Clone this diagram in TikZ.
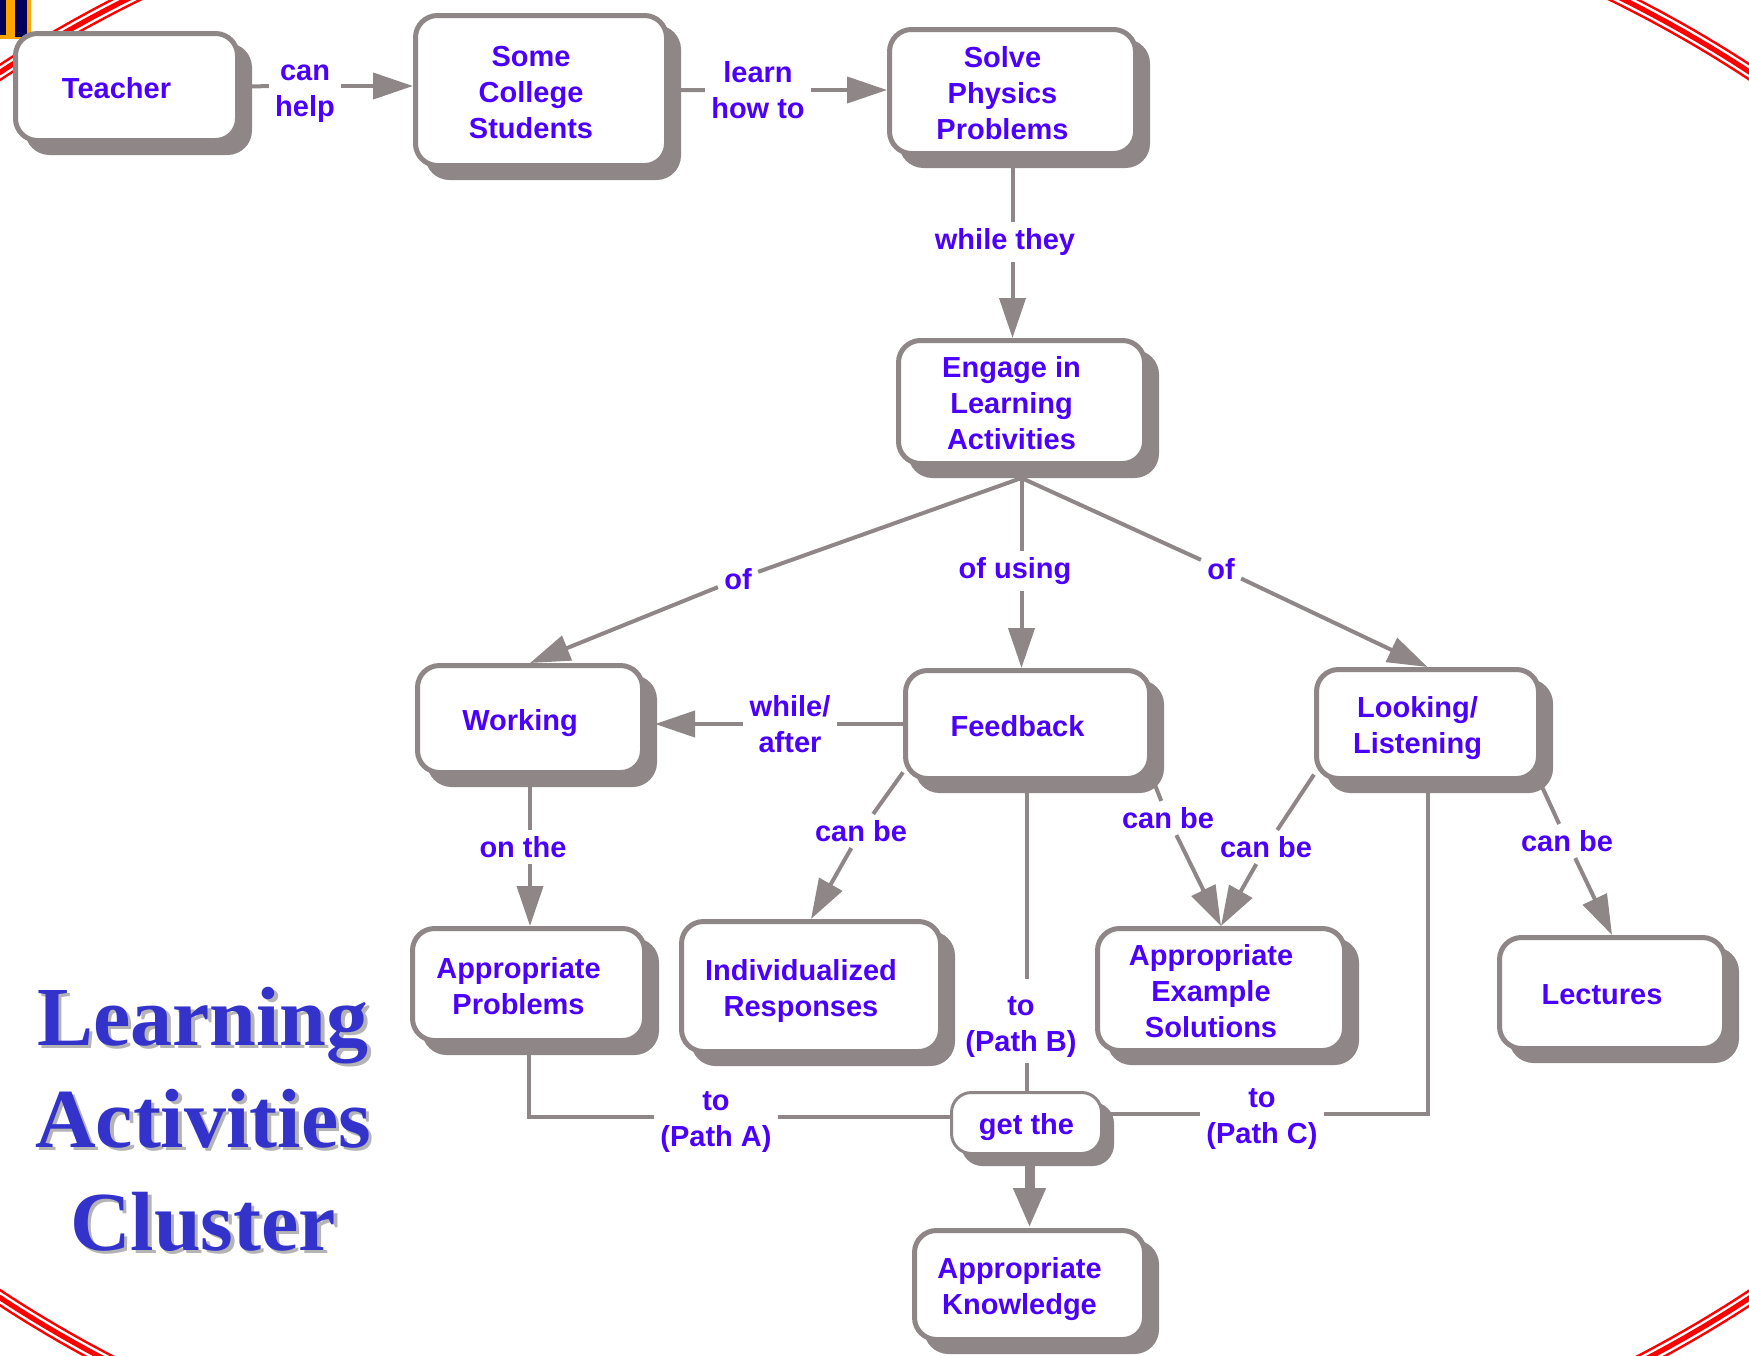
\documentclass[tikz,border=0pt]{standalone}
\usepackage{fontspec}
\setmainfont{Liberation Sans}
\newfontfamily\titlefont{Liberation Serif}
\usetikzlibrary{arrows.meta,shadows}
\definecolor{ink}{RGB}{75,0,255}
\definecolor{frame}{RGB}{143,135,135}
\definecolor{titleblue}{RGB}{51,51,204}
\definecolor{titleshade}{RGB}{180,180,180}
\definecolor{rim}{RGB}{255,0,0}
\definecolor{logoorange}{RGB}{255,165,0}
\definecolor{logonavy}{RGB}{0,0,90}
% a stack of centred lines, printed a little lower than the space it claims
\newcommand\lowered[2]{\raisebox{-#1}[\height][\depth]{\begin{tabular}{@{}c@{}}#2\end{tabular}}}
% concept text sits a little left of and below the box centre (room for the shadow)
\newcommand\conceptlines[1]{\lowered{2.2pt}{#1}\hspace*{10pt}}

\begin{document}
\begin{tikzpicture}[x=0.5pt,y=-0.5pt,
  labelfont/.style={font=\bfseries\fontsize{14.5pt}{18pt}\selectfont},
  concept/.style={labelfont, draw=frame, line width=2.5pt, fill=white,
    rounded corners=11pt, text=ink, inner sep=0pt,
    drop shadow={shadow xshift=6pt, shadow yshift=-6pt, fill=frame,
      draw=frame, line width=2.5pt, opacity=1}},
  smallconcept/.style={labelfont, draw=frame, line width=1.5pt, fill=white,
    rounded corners=10pt, text=ink, inner sep=0pt,
    drop shadow={shadow xshift=5.5pt, shadow yshift=-5.5pt, fill=frame,
      draw=frame, line width=1.5pt, opacity=1}},
  phrase/.style={labelfont, text=ink, align=center, inner sep=3pt},
  link/.style={draw=frame, line width=2pt},
  arr/.style={-{Triangle[length=20pt,width=13pt]}},
  bigtitle/.style={font=\titlefont\bfseries\fontsize{42pt}{51pt}\selectfont, anchor=base}
]
\useasboundingbox (0,0) rectangle (1749,1355);

% red rim of the slide
\begin{scope}
  \clip (0,0) rectangle (1749,1355);
  \draw[rim, line width=1.2pt] (875,685) ellipse [x radius=1251, y radius=846.5];
  \draw[rim, line width=2.6pt] (875,685) ellipse [x radius=1257.5, y radius=853];
  \draw[rim, line width=1.2pt] (875,685) ellipse [x radius=1264, y radius=859.5];
\end{scope}

% logo corner
\fill[logoorange] (0,0) rectangle (31,39);
\fill[logonavy] (0,0) rectangle (6,35);
\fill[logonavy] (15,0) rectangle (27,37);

% title
\foreach \word/\base [count=\i] in {Learning/1045, Activities/1147, Cluster/1250} {
  \node[bigtitle, text=titleshade] (shade\i) at (206.5,\base+3.5) {\word};
  \node[bigtitle, text=titleblue] (title\i) at (203,\base) {\word};
}

% concepts
\node[concept, minimum width=111pt, minimum height=53.5pt] (teacher) at (126.5,87) {\conceptlines{Teacher}};
\node[concept, minimum width=125.5pt, minimum height=75pt] (students) at (541,90.5) {\conceptlines{Some\\College\\Students}};
\node[concept, minimum width=123pt, minimum height=62pt] (solve) at (1012.5,91.5) {\conceptlines{Solve\\Physics\\Problems}};
\node[concept, minimum width=123pt, minimum height=61.5pt] (engage) at (1021.5,402) {\conceptlines{Engage in\\Learning\\Activities}};
\node[concept, minimum width=112.5pt, minimum height=53.5pt] (working) at (530,719) {\conceptlines{Working}};
\node[concept, minimum width=122pt, minimum height=54pt] (feedback) at (1027.5,724.5) {\conceptlines{Feedback}};
\node[concept, minimum width=111pt, minimum height=54.5pt] (looking) at (1427.5,724) {\conceptlines{Looking/\\Listening}};
\node[concept, minimum width=116pt, minimum height=56pt] (problems) at (528.5,984.5) {\conceptlines{Appropriate\\Problems}};
\node[concept, minimum width=129.5pt, minimum height=65pt] (responses) at (811,986.5) {\conceptlines{Individualized\\Responses}};
\node[concept, minimum width=123.5pt, minimum height=61pt] (examples) at (1221,989.5) {\conceptlines{Appropriate\\Example\\Solutions}};
\node[concept, minimum width=112.5pt, minimum height=55.5pt] (lectures) at (1612,993) {\conceptlines{Lectures}};
\node[smallconcept, minimum width=75pt, minimum height=30.5pt] (getthe) at (1026.5,1123) {\lowered{2pt}{get the}};
\node[concept, minimum width=115pt, minimum height=54.5pt] (knowledge) at (1029.5,1285) {\conceptlines{Appropriate\\Knowledge}};

% linking phrases
\node[phrase] (canhelp) at (305,86) {\lowered{2.6pt}{can\\help}};
\node[phrase] (learnhow) at (758,90) {learn\\how to};
\node[phrase] (whilethey) at (1005,242) {while they};
\node[phrase] (of1) at (738,579) {of};
\node[phrase] (ofusing) at (1015,571) {of using};
\node[phrase] (of2) at (1221,569) {of};
\node[phrase] (whileafter) at (790,724) {while/\\after};
\node[phrase] (canbe1) at (861,831) {can be};
\node[phrase] (canbe2) at (1168,818) {can be};
\node[phrase] (canbe3) at (1266,847) {can be};
\node[phrase] (canbe4) at (1567,841) {can be};
\node[phrase] (onthe) at (523,847) {on the};
\node[phrase] (pathb) at (1021,1021) {\lowered{2.4pt}{to\\(Path B)}};
\node[phrase] (patha) at (716,1117) {\lowered{2.2pt}{to\\(Path A)}};
\node[phrase] (pathc) at (1262,1114) {\lowered{2.2pt}{to\\(Path C)}};

% helper points
\coordinate (fan) at ([yshift=-6pt]engage.south);
\coordinate (workingside) at ([xshift=5pt]working.east);

% connectors
\draw[link] (teacher) -- (canhelp);
\draw[link,arr] (canhelp) -- (canhelp -| students.west);
\draw[link] (students) -- (learnhow);
\draw[link,arr] (learnhow) -- (learnhow -| solve.west);
\draw[link] (solve.south) -- (solve.south |- whilethey.north);
\draw[link,arr] (solve.south |- whilethey.south) -- (solve.south |- engage.north);

\draw[link] (fan) -- (of1);
\draw[link,arr] (of1) -- (working.north);
\draw[link] (fan) -- (fan |- ofusing.north);
\draw[link,arr] (fan |- ofusing.south) -- (fan |- feedback.north);
\draw[link] (fan) -- (of2);
\draw[link,arr] (of2) -- (looking.north);

\draw[link] (feedback.west |- whileafter) -- (whileafter);
\draw[link,arr] (whileafter) -- (whileafter -| workingside);

\draw[link] (feedback.201) -- (canbe1);
\draw[link,arr] (canbe1) -- (responses.north);
\draw[link] (feedback.-23) -- (canbe2);
\draw[link,arr] (canbe2) -- (examples.north);
\draw[link] (looking.204) -- (canbe3);
\draw[link,arr] (canbe3) -- (examples.north);
\draw[link] (looking.-27) -- (canbe4);
\draw[link,arr] (canbe4) -- (lectures.north);

\draw[link] (working.south) -- (working.south |- onthe.north);
\draw[link,arr] (working.south |- onthe.south) -- (working.south |- problems.north);

\draw[link] (getthe.north |- feedback.south) -- (getthe.north |- pathb.north);
\draw[link] (getthe.north |- pathb.south) -- (getthe.north);
\draw[link] (problems.south) |- (patha.west);
\draw[link] (patha.east) -- (patha.east -| getthe.west);
\draw[link] (looking.south) |- (pathc.east);
\draw[link] (pathc.west) -- (pathc.west -| getthe.east);

\draw[draw=frame, line width=5pt, -{Triangle[length=20pt,width=15pt]}]
  (knowledge.north |- getthe.south) -- (knowledge.north);
\end{tikzpicture}
\end{document}
